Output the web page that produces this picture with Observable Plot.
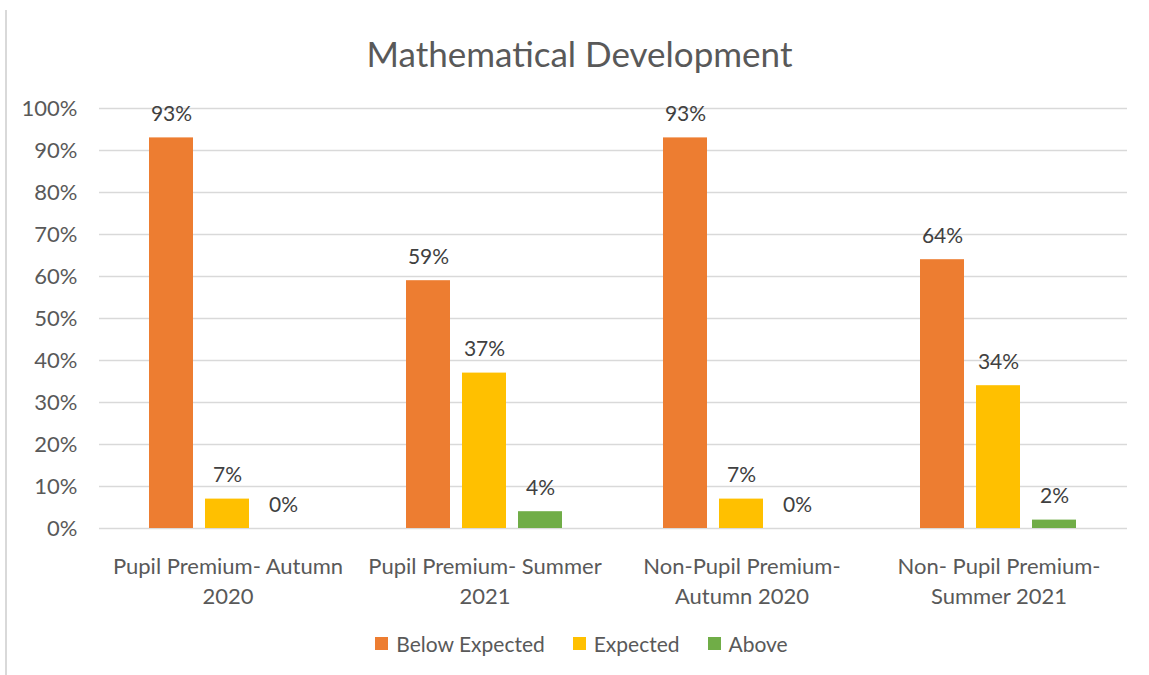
<!DOCTYPE html>
<html>
<head>
<meta charset="utf-8">
<script src="https://cdn.jsdelivr.net/npm/d3@7"></script>
<script src="https://cdn.jsdelivr.net/npm/@observablehq/plot@0.6"></script>
<style>
  html, body { margin: 0; padding: 0; background: #fff; }
  #wrap { position: relative; width: 1149px; height: 675px; overflow: hidden; font-family: Lato, "Open Sans", sans-serif; }
  #border { position: absolute; left: 5px; top: 10px; width: 2px; height: 665px; background: #d9d9d9; }
  #title { height: 90px; box-sizing: border-box; padding-top: 33px; text-align: center; font-size: 35px; line-height: 40px; color: #595959; padding-left: 10px; }
  #legend { display: flex; justify-content: center; align-items: center; height: 56px; font-size: 21px; color: #595959; margin-left: 14px; }
  .item { display: flex; align-items: center; margin: 0 14px; }
  .sw { width: 13px; height: 13px; margin-right: 8px; }
  svg { display: block; }
</style>
</head>
<body>
<div id="wrap">
  <div id="border"></div>
  <div id="title">Mathematical Development</div>
  <div id="chart"></div>
  <div id="legend"></div>
</div>
<script>
const categories = ["Pupil Premium- Autumn 2020", "Pupil Premium- Summer 2021", "Non-Pupil Premium- Autumn 2020", "Non- Pupil Premium- Summer 2021"];
const tickLabels = ["Pupil Premium- Autumn\n2020", "Pupil Premium- Summer\n2021", "Non-Pupil Premium-\nAutumn 2020", "Non- Pupil Premium-\nSummer 2021"];
const series = ["Below Expected", "Expected", "Above"];
const colors = ["#ED7D31", "#FFC000", "#70AD47"];
const belowExpected = [93, 59, 93, 64];
const expected = [7, 37, 7, 34];
const above = [0, 4, 0, 2];
const yTicks = [0, 10, 20, 30, 40, 50, 60, 70, 80, 90, 100];

const values = [belowExpected, expected, above];
const data = [];
categories.forEach((c, i) => {
  series.forEach((s, j) => data.push({category: c, series: s, value: values[j][i]}));
});

const chart = Plot.plot({
  width: 1149,
  height: 525,
  marginTop: 18,
  marginBottom: 87,
  marginLeft: 98,
  marginRight: 21,
  style: {fontFamily: "Lato, 'Open Sans', sans-serif", color: "#595959", background: "#fff"},
  fx: {domain: categories, padding: 0, axis: null},
  x: {domain: series, paddingInner: 0.21, paddingOuter: 0.86, axis: null},
  y: {domain: [0, 100]},
  color: {domain: series, range: colors},
  marks: [
    Plot.gridY(yTicks, {stroke: "#d9d9d9", strokeOpacity: 1, strokeWidth: 1.3}),
    Plot.axisY({ticks: yTicks, tickSize: 0, tickPadding: 22, tickFormat: d => d + "%", fontSize: 22, fill: "#595959", label: null}),
    Plot.barY(data, {fx: "category", x: "series", y: "value", fill: "series"}),
    Plot.text(data, {fx: "category", x: "series", y: "value", text: d => d.value + "%", lineAnchor: "bottom", dy: -17, fontSize: 21, fill: "#404040"}),
    Plot.axisFx({anchor: "bottom", tickSize: 0, tickPadding: 24, tickFormat: d => tickLabels[categories.indexOf(d)], fontSize: 22, lineHeight: 1.36, fill: "#595959", label: null})
  ]
});
document.getElementById("chart").appendChild(chart);

const legend = document.getElementById("legend");
series.forEach((s, j) => {
  const it = document.createElement("div");
  it.className = "item";
  const sw = document.createElement("div");
  sw.className = "sw";
  sw.style.background = colors[j];
  const t = document.createElement("span");
  t.textContent = s;
  it.appendChild(sw);
  it.appendChild(t);
  legend.appendChild(it);
});
</script>
</body>
</html>
